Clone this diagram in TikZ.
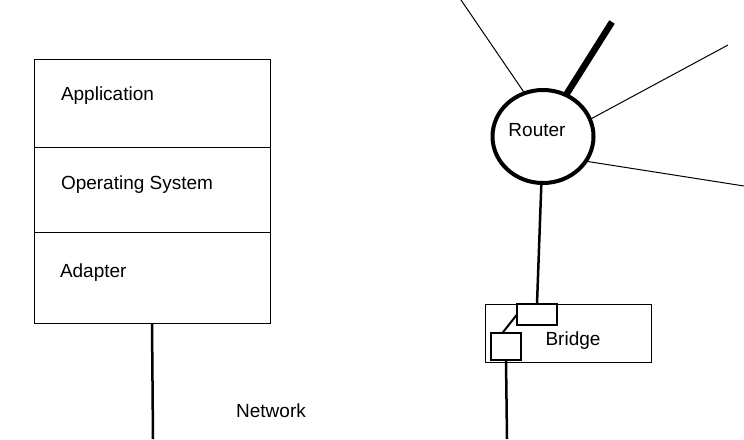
\documentclass[tikz,border=0pt]{standalone}
\usepackage{fontspec}
\setmainfont{Liberation Sans}
\usetikzlibrary{positioning,shapes.geometric}

\begin{document}
\begin{tikzpicture}[x=1pt, y=-1pt,
	every node/.style={font=\fontsize{19}{22}\selectfont, inner sep=0pt, outer sep=0pt},
	layer/.style={draw, rectangle, line width=0.8pt, minimum width=236pt},
	port/.style={draw, rectangle, line width=1.2pt},
	wire/.style={line width=2.5pt},
	link/.style={line width=1pt}]
	\useasboundingbox (0,0) rectangle (744,439);

	% host stack
	\begin{scope}[node distance=0pt]
	\node (app) [layer, minimum height=88pt, anchor=north west] at (34,59) {};
	\node (os) [layer, minimum height=85pt, below=of app] {};
	\node (adp) [layer, minimum height=91pt, below=of os] {};
	\end{scope}
	\node (apptext) [anchor=west] at (61,96) {Application};
	\node (ostext) [anchor=west] at (61,185) {Operating System};
	\node (adptext) [anchor=west] at (60,273) {Adapter};

	\coordinate (lan1) at (153,439);
	\draw [wire] (adp.south) -- (lan1);
	\node (net) at (271,411) {Network};

	% router
	\node (router) [draw, ellipse, line width=4pt, minimum width=101pt, minimum height=93pt] at (543,136.5) {};
	\node (routertext) at (537,130) {Router};

	\coordinate (link1) at (461,0);
	\coordinate (link2) at (612,22);
	\coordinate (link3) at (728,45);
	\coordinate (link4) at (744,186);
	\draw [link] (router.113) -- (link1);
	\draw [line width=6.5pt] (router.61) -- (link2);
	\draw [link] (router.20) -- (link3);
	\draw [link] (router.-30) -- (link4);

	% bridge
	\node (bridge) [draw, rectangle, line width=0.8pt, minimum width=166pt, minimum height=58pt] at (568,333) {};
	\node (bridgetext) at (573,341) {Bridge};
	\node (port1) [port, minimum width=40pt, minimum height=21pt] at (537,314.5) {};
	\node (port2) [port, minimum width=30pt, minimum height=27pt] at (506,346.5) {};

	\coordinate (lan2) at (507,439);
	\draw [wire] (router.-92) -- (port1.north);
	\draw [line width=2pt] (port2.105) -- (port1.west);
	\draw [wire] (port2.south) -- (lan2);
\end{tikzpicture}
\end{document}
